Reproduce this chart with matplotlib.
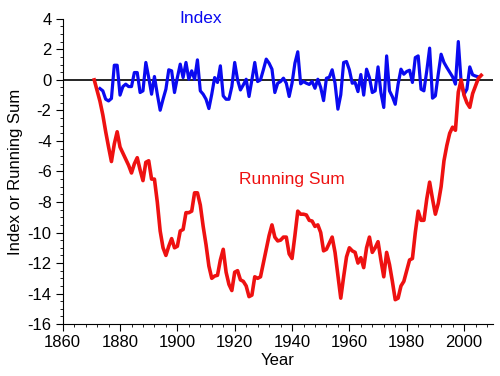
import numpy as np
import matplotlib
matplotlib.use("Agg")
import matplotlib.pyplot as plt
from matplotlib.ticker import MultipleLocator

plt.rcParams['font.family'] = ['Liberation Sans', 'DejaVu Sans']
plt.rcParams['axes.unicode_minus'] = False

# Index values (1873-2005)
index_years = np.arange(1873, 2006)
index_vals = [
    -0.57, -0.72, -1.27, -1.38, -1.22, 0.96, 0.96, -1.0, -0.44, -0.28,    # 1873-1882
    -0.44, -0.44, 0.48, 0.48, -0.83, -0.72, 1.14, 0.15, -0.94, 0.22,      # 1883-1892
    -0.94, -1.99, -1.27, -0.61, 0.66, 0.59, -0.83, 0.15, 1.03, 0.15,      # 1893-1902
    1.14, 0.04, 0.59, 0.04, 1.31, -0.72, -0.94, -1.27, -1.88, -0.94,      # 1903-1912
    0.15, -0.17, 0.92, -1.05, -1.27, -1.27, -0.44, 1.14, 0.0, -0.66,      # 1913-1922
    -0.33, 0.04, -1.09, 0.0, 1.14, -0.11, 0.0, 0.66, 1.36, 1.09,          # 1923-1932
    0.7, -0.83, -0.22, -0.11, 0.11, -0.22, -1.09, -0.22, 1.09, 1.84,      # 1933-1942
    -0.26, -0.11, -0.22, -0.3, -0.11, -0.55, 0.04, -0.5, -1.36, 0.11,     # 1943-1952
    0.17, 0.66, -0.22, -1.92, -0.98, 1.14, 1.2, 0.66, -0.22, -0.17,       # 1953-1962
    -0.77, 0.35, -1.0, 0.7, 0.15, -0.83, -0.72, 0.85, -0.83, -1.81,       # 1963-1972
    1.57, -0.72, -1.1, -1.6, -0.28, 0.7, 0.37, 0.55, 0.63, -0.17,         # 1973-1982
    1.46, 1.57, -0.61, -0.72, 0.59, 2.08, -1.2, -1.05, 0.37, 1.68,        # 1983-1992
    1.14, 0.81, 0.5, 0.2, -0.28, 2.51, -0.17, -0.94, -0.61, 0.85,         # 1993-2002
    0.33, 0.25, 0.2,                                                       # 2003-2005
]

# Running sum (1871-2006)
sum_years = np.arange(1871, 2007)
sum_vals = [
    0.0, -0.7, -1.4, -2.3, -3.4, -4.4, -5.35, -4.2, -3.4, -4.4,           # 1871-1880
    -4.8, -5.2, -5.6, -6.1, -5.5, -5.1, -5.9, -6.6, -5.4, -5.3,           # 1881-1890
    -6.5, -6.5, -8.0, -9.9, -11.0, -11.5, -10.9, -10.4, -11.0, -10.9,     # 1891-1900
    -9.9, -9.8, -8.7, -8.7, -8.6, -7.4, -7.4, -8.2, -9.6, -10.8,          # 1901-1910
    -12.2, -13.0, -12.85, -12.8, -11.8, -11.1, -12.6, -13.4, -13.8, -12.6,  # 1911-1920
    -12.5, -13.1, -13.2, -13.5, -14.2, -14.1, -12.9, -13.0, -12.9, -12.0,   # 1921-1930
    -11.1, -10.2, -9.5, -10.3, -10.55, -10.5, -10.3, -10.3, -11.4, -11.7,   # 1931-1940
    -10.2, -8.6, -8.8, -8.8, -8.85, -9.2, -9.25, -9.6, -9.5, -10.0,         # 1941-1950
    -11.2, -11.1, -10.7, -10.3, -11.3, -12.8, -14.3, -12.9, -11.6, -11.0,   # 1951-1960
    -11.2, -11.3, -12.0, -11.65, -12.3, -11.0, -10.3, -11.3, -11.0, -10.6,  # 1961-1970
    -11.8, -12.9, -11.3, -12.1, -13.2, -14.4, -14.3, -13.5, -13.2, -12.5,   # 1971-1980
    -11.8, -11.7, -10.0, -8.6, -9.2, -9.2, -7.8, -6.7, -7.8, -8.8,          # 1981-1990
    -8.1, -7.0, -5.3, -4.3, -3.5, -3.1, -3.3, -0.8, 0.0, -1.0,              # 1991-2000
    -1.5, -1.8, -0.9, -0.4, 0.1, 0.3,                                        # 2001-2006
]

fig = plt.figure(figsize=(5, 3.76), dpi=100)
ax = fig.add_axes([0.1254, 0.138, 0.86, 0.812])

ax.axhline(0, color='black', lw=1.2, zorder=1)
ax.plot(index_years, index_vals, color='#0a0af0', lw=2.3, zorder=2)
ax.plot(sum_years, sum_vals, color='#ee1111', lw=2.6, zorder=3)

ax.set_xlim(1860, 2010)
ax.set_ylim(-16, 4)
ax.xaxis.set_major_locator(MultipleLocator(20))
ax.xaxis.set_minor_locator(MultipleLocator(4))
ax.yaxis.set_major_locator(MultipleLocator(2))
ax.yaxis.set_minor_locator(MultipleLocator(0.5))
ax.tick_params(which='major', length=5, width=0.8, labelsize=12, pad=3)
ax.tick_params(which='minor', length=2.5, width=0.6)

for s in ['top', 'right']:
    ax.spines[s].set_visible(False)

ax.set_xlabel('Year', fontsize=12, labelpad=2)
ax.set_ylabel('Index or Running Sum', fontsize=12, labelpad=3)

ax.text(1908, 4.0, 'Index', color='#0a0af0', fontsize=12.5, ha='center', va='center')
ax.text(1940, -6.5, 'Running Sum', color='#ee1111', fontsize=12.5, ha='center', va='center')

fig.savefig('out.png', dpi=100)
